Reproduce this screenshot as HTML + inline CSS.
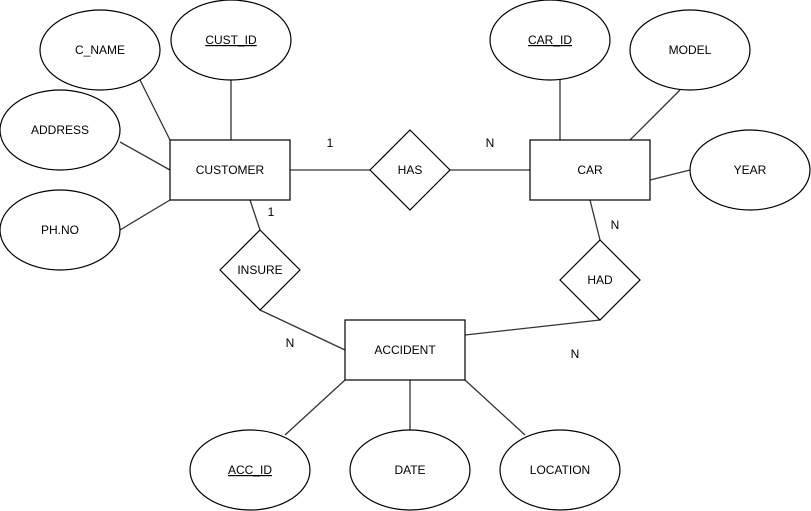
<!DOCTYPE html>
<html><head><style>html,body{margin:0;padding:0;background:#fff}svg{display:block}</style></head>
<body>
<svg width="811" height="511" xmlns="http://www.w3.org/2000/svg" font-family="Liberation Sans, sans-serif" font-size="12" fill="#fff" stroke="#000">
<g stroke="#333" stroke-width="1.3" fill="none">
<line x1="140" y1="80" x2="170" y2="140"/>
<line x1="231" y1="80" x2="231" y2="140"/>
<line x1="120" y1="142" x2="170" y2="170"/>
<line x1="120" y1="230" x2="170" y2="200"/>
<line x1="290" y1="170" x2="370" y2="170"/>
<line x1="450" y1="170" x2="530" y2="170"/>
<line x1="560" y1="80" x2="560" y2="140"/>
<line x1="680" y1="90" x2="630" y2="140"/>
<line x1="650" y1="180" x2="690" y2="170"/>
<line x1="250" y1="200" x2="260" y2="230"/>
<line x1="260" y1="310" x2="345" y2="350"/>
<line x1="590" y1="200" x2="600" y2="240"/>
<line x1="600" y1="320" x2="465" y2="335"/>
<line x1="345" y1="380" x2="285" y2="435"/>
<line x1="410" y1="380" x2="410" y2="430"/>
<line x1="465" y1="380" x2="525" y2="435"/>
</g>
<g stroke="#000" stroke-width="1.2">
<ellipse cx="100" cy="50" rx="60" ry="40"/>
<ellipse cx="231" cy="40" rx="60" ry="40"/>
<ellipse cx="60" cy="130" rx="60" ry="40"/>
<ellipse cx="60" cy="230" rx="60" ry="40"/>
<ellipse cx="550" cy="40" rx="60" ry="40"/>
<ellipse cx="690" cy="50" rx="60" ry="40"/>
<ellipse cx="750" cy="170" rx="60" ry="40"/>
<ellipse cx="250" cy="470" rx="60" ry="40"/>
<ellipse cx="410" cy="470" rx="60" ry="40"/>
<ellipse cx="560" cy="470" rx="60" ry="40"/>
<rect x="170" y="140" width="120" height="60"/>
<rect x="530" y="140" width="120" height="60"/>
<rect x="345" y="320" width="120" height="60"/>
<polygon points="410,130 450,170 410,210 370,170"/>
<polygon points="260,230 300,270 260,310 220,270"/>
<polygon points="600,240 640,280 600,320 560,280"/>
</g>
<g fill="#000" stroke="none" text-anchor="middle">
<text x="100" y="54">C_NAME</text>
<text x="231" y="44" text-decoration="underline">CUST_ID</text>
<text x="60" y="134">ADDRESS</text>
<text x="60" y="234">PH.NO</text>
<text x="550" y="44" text-decoration="underline">CAR_ID</text>
<text x="690" y="54">MODEL</text>
<text x="750" y="174">YEAR</text>
<text x="250" y="474" text-decoration="underline">ACC_ID</text>
<text x="410" y="474">DATE</text>
<text x="560" y="474">LOCATION</text>
<text x="230" y="174">CUSTOMER</text>
<text x="590" y="174">CAR</text>
<text x="405" y="354">ACCIDENT</text>
<text x="410" y="174">HAS</text>
<text x="260" y="274">INSURE</text>
<text x="600" y="284">HAD</text>
<text x="330" y="147">1</text>
<text x="490" y="147">N</text>
<text x="271" y="216">1</text>
<text x="615" y="229">N</text>
<text x="290" y="347">N</text>
<text x="575" y="358">N</text>
</g>
</svg>
</body></html>
